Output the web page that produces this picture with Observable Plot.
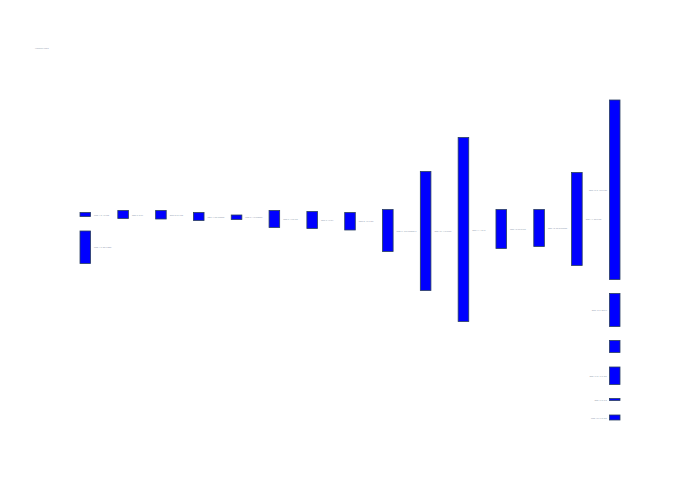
<!DOCTYPE html>
<html>
<head>
<meta charset="utf-8">
<script src="https://cdn.jsdelivr.net/npm/d3@7"></script>
<script src="https://cdn.jsdelivr.net/npm/@observablehq/plot@0.6"></script>
<style>
  body { margin: 0; background: #fff; }
  #wrap { position: relative; width: 700px; height: 500px; }
  #title { position: absolute; left: 35px; top: 47px; font: 2px "Open Sans", sans-serif; color: #8a96a8; white-space: nowrap; }
</style>
</head>
<body>
<div id="wrap">
  <div id="title">Waterfall chart</div>
  <div id="chart"></div>
</div>
<script>
// columns, left to right
const steps = ["Step 1", "Step 2", "Step 3", "Step 4", "Step 5", "Step 6", "Step 7", "Step 8",
  "Step 9", "Step 10", "Step 11", "Step 12", "Step 13", "Step 14", "Step 15"];

// one entry per bar (some columns hold several bars)
const barStep = ["Step 1", "Step 1", "Step 2", "Step 3", "Step 4", "Step 5", "Step 6", "Step 7",
  "Step 8", "Step 9", "Step 10", "Step 11", "Step 12", "Step 13", "Step 14",
  "Step 15", "Step 15", "Step 15", "Step 15", "Step 15", "Step 15"];
const barLow = [203.5, 156.5, 201.5, 201, 199.5, 200.5, 192.5, 191.5,
  190, 168.5, 129.5, 98.5, 171.5, 173.5, 154.5,
  140.5, 93.5, 67.5, 35.5, 19.5, 0];
const barHigh = [207.5, 189, 209.5, 209.5, 207.5, 205, 209.5, 208.5,
  207.5, 210.5, 248.5, 282.5, 210.5, 210.5, 247.5,
  320, 126.5, 79.5, 53, 21.5, 5];
const barLabel = ["Step 1 a: 4.0 chg", "Step 1 b: 32.5 total", "Step 2: 8.0 c", "Step 3: 8.5 chg",
  "Step 4: 8.0 change", "Step 5: 4.5 change", "Step 6: 17.0 chg", "Step 7: 17.0 c",
  "Step 8: 17.5 chg", "Step 9: 42.0 change a", "Step 10: 119.0 chg", "Step 11: 184.0",
  "Step 12: 39.0 chg", "Step 13: 37.0 change", "Step 14: 93.0 chg",
  "Step 15 a: 179.5 tot", "Step 15 b: 33.0 c", "", "Step 15 d: 17.5 chg", "Step 15 e: 2.0", "Step 15 f: 5.0 chg"];

const bars = barStep.map((s, i) => ({step: s, lo: barLow[i], hi: barHigh[i], label: barLabel[i]}));
const last = steps[steps.length - 1];

const plot = Plot.plot({
  width: 700,
  height: 500,
  marginTop: 100,
  marginBottom: 80,
  marginLeft: 80,
  marginRight: 80,
  x: { type: "band", domain: steps, paddingInner: 0.72, paddingOuter: 0, round: false, axis: null },
  y: { domain: [0, 320], axis: null },
  style: { fontFamily: "'Open Sans', sans-serif" },
  marks: [
    Plot.barY(bars, { x: "step", y1: "lo", y2: "hi", fill: "#0000ff", stroke: "#2a3f5f", strokeWidth: 0.8 }),
    Plot.text(bars.filter(d => d.step !== last), {
      x: "step", y: d => (d.lo + d.hi) / 2, text: "label",
      textAnchor: "start", dx: 8.3, fontSize: 2, fill: "#7f8fa6"
    }),
    Plot.text(bars.filter(d => d.step === last), {
      x: "step", y: d => (d.lo + d.hi) / 2, text: "label",
      textAnchor: "end", dx: -8.3, fontSize: 2, fill: "#7f8fa6"
    })
  ]
});

d3.select("#chart").append(() => plot);
</script>
</body>
</html>
